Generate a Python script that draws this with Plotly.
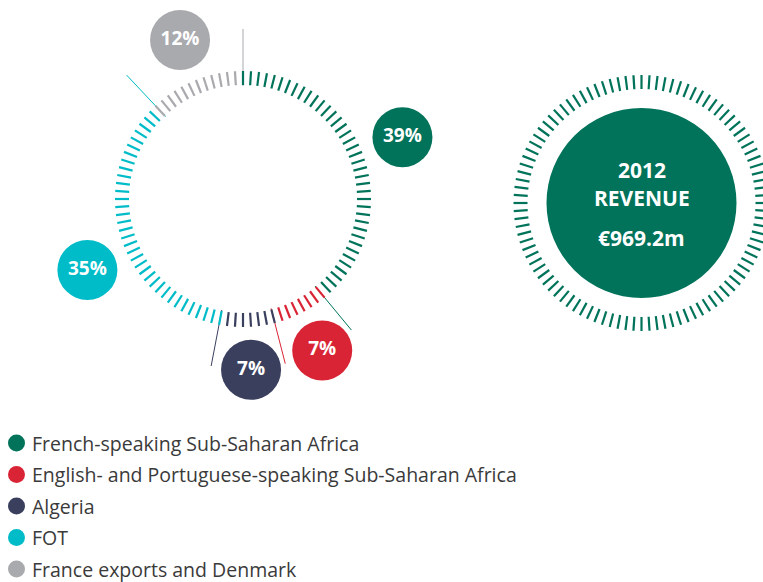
import numpy as np
import plotly.graph_objects as go

# ---------------- data ----------------
regions = ["French-speaking Sub-Saharan Africa",
           "English- and Portuguese-speaking Sub-Saharan Africa",
           "Algeria",
           "FOT",
           "France exports and Denmark"]
shares = [39, 7, 7, 35, 12]
share_labels = ["39%", "7%", "7%", "35%", "12%"]
colors = ["#00735A", "#D92435", "#3A3F5E", "#00BCC8", "#A9AAAE"]
revenue_year = "2012"
revenue_title = "REVENUE"
revenue_value = "€969.2m"

# ---------------- layout constants ----------------
W, H = 763, 582
CX, CY = 243, 199          # left ring centre (px)
R_IN, R_OUT = 114, 128     # tick radii
R_LEAD_IN, R_LEAD_OUT = 113, 170
R_BUBBLE = 171
BUBBLE_SHIFT = [-1.4, -0.6, -0.9, -8.3, 0.0]   # small angular nudges of the labels (deg)
N_TICKS = 100
RCX, RCY = 641.5, 203      # right ring centre
R_BIG = 95

FONT_B = "Open Sans"
FONT_L = "Open Sans"


def pol(cx, cy, r, deg):
    a = np.deg2rad(deg)
    return cx + r * np.sin(a), cy - r * np.cos(a)


fig = go.Figure()

step = 360.0 / N_TICKS
total = sum(shares)
cum = 0

# leader lines (drawn first, ticks above)
for share, color in zip(shares, colors):
    cum_end = cum + share
    ang = cum_end / total * 360.0
    x0, y0 = pol(CX, CY, R_LEAD_IN, ang)
    x1, y1 = pol(CX, CY, R_LEAD_OUT, ang)
    fig.add_trace(go.Scatter(x=[x0, x1], y=[y0, y1], mode="lines",
                             line=dict(color=color, width=1),
                             hoverinfo="skip", showlegend=False))
    cum = cum_end

# ticks of the left ring
cum = 0
for share, color in zip(shares, colors):
    xs, ys = [], []
    for k in range(cum, cum + share):
        a = k * step
        x0, y0 = pol(CX, CY, R_IN, a)
        x1, y1 = pol(CX, CY, R_OUT, a)
        xs += [x0, x1, None]
        ys += [y0, y1, None]
    fig.add_trace(go.Scatter(x=xs, y=ys, mode="lines",
                             line=dict(color=color, width=2.2),
                             hoverinfo="skip", showlegend=False))
    cum += share

# bubbles
cum = 0
bx, by = [], []
for i, share in enumerate(shares):
    mid = (cum + share / 2) / total * 360.0 + BUBBLE_SHIFT[i]
    x, y = pol(CX, CY, R_BUBBLE, mid)
    bx.append(x)
    by.append(y)
    cum += share
fig.add_trace(go.Scatter(x=bx, y=by, mode="markers+text",
                         marker=dict(size=60, color=colors, line=dict(width=0)),
                         text=share_labels, textposition="middle center",
                         textfont=dict(family=FONT_B, size=19, color="white", weight="bold"),
                         hoverinfo="skip", showlegend=False))

# right ring
xs, ys = [], []
for k in range(N_TICKS):
    a = k * step
    x0, y0 = pol(RCX, RCY, R_IN, a)
    x1, y1 = pol(RCX, RCY, R_OUT, a)
    xs += [x0, x1, None]
    ys += [y0, y1, None]
fig.add_trace(go.Scatter(x=xs, y=ys, mode="lines",
                         line=dict(color=colors[0], width=2.2),
                         hoverinfo="skip", showlegend=False))

fig.add_shape(type="circle", xref="x", yref="y",
              x0=RCX - R_BIG, x1=RCX + R_BIG, y0=RCY - R_BIG, y1=RCY + R_BIG,
              fillcolor=colors[0], line=dict(width=0), layer="above")

annotations = [
    dict(x=RCX, y=170, text=revenue_year),
    dict(x=RCX, y=198, text=revenue_title),
    dict(x=RCX, y=238, text=revenue_value),
]
for a in annotations:
    a.update(xref="x", yref="y", showarrow=False, xanchor="center", yanchor="middle",
             borderpad=0,
             font=dict(family=FONT_B, size=21, color="white", weight="bold"))

# custom legend
LEG_X, LEG_Y0, LEG_DY = 16.5, 443, 31.5
ly = [LEG_Y0 + i * LEG_DY for i in range(len(regions))]
fig.add_trace(go.Scatter(x=[LEG_X] * len(regions), y=ly, mode="markers",
                         marker=dict(size=17, color=colors, line=dict(width=0)),
                         hoverinfo="skip", showlegend=False))
for name, yy in zip(regions, ly):
    annotations.append(dict(x=31, y=yy, text=name, xref="x", yref="y", showarrow=False,
                            xanchor="left", yanchor="middle", borderpad=0,
                            font=dict(family=FONT_L, size=19.5, color="#3a3a3a")))

fig.update_layout(
    width=W, height=H,
    margin=dict(l=0, r=0, t=0, b=0),
    paper_bgcolor="white", plot_bgcolor="white",
    xaxis=dict(range=[0, W], visible=False, fixedrange=True),
    yaxis=dict(range=[H, 0], visible=False, fixedrange=True),
    annotations=annotations,
    showlegend=False,
)

fig.write_html("out.html", config={"displayModeBar": False},
               post_script="document.body.style.margin='0';document.body.style.overflow='hidden';")
